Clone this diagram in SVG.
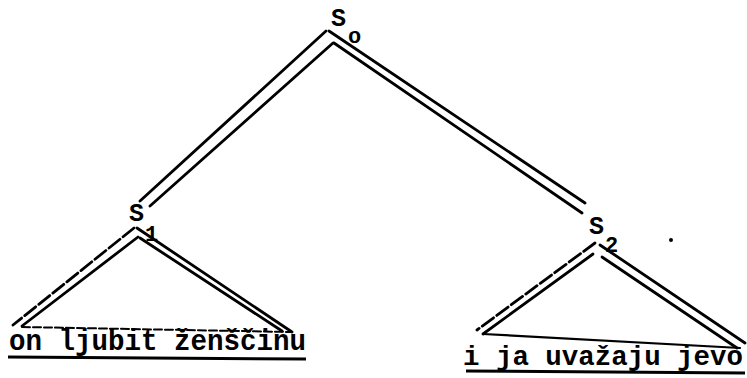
<svg xmlns="http://www.w3.org/2000/svg" width="747" height="378" viewBox="0 0 747 378">
<style>
.ln{stroke:#000;stroke-width:2.8;fill:none;stroke-linecap:round}
.dsh{stroke-dasharray:14 4}
.lab{font-family:"Liberation Mono","DejaVu Sans Mono",monospace;font-weight:bold;fill:#000}
.big{font-size:25px}
.sub{font-size:22px}
.txt{font-size:29px}
.txt2{font-size:27px}
.ul{stroke:#000;stroke-width:3;fill:none}
</style>
<rect width="747" height="378" fill="#fff"/>
<g id="connectors">
<line class="ln" x1="326" y1="31" x2="140" y2="201"/>
<line class="ln" x1="333" y1="43" x2="150" y2="206"/>
<line class="ln" x1="329" y1="31" x2="585" y2="203"/>
<line class="ln" x1="334" y1="43" x2="582" y2="213"/>
</g>
<g id="node-S0">
<text class="lab big" x="331" y="26">S</text>
<text class="lab sub" x="348" y="43">o</text>
</g>
<g id="node-S1">
<text class="lab big" x="129" y="221">S</text>
<text class="lab sub" x="145" y="241">1</text>
<line class="ln dsh" x1="134" y1="228" x2="13" y2="325"/>
<line class="ln" x1="138" y1="237" x2="22" y2="326"/>
<line class="ln" x1="137" y1="228" x2="292" y2="332"/>
<line class="ln" x1="140" y1="238" x2="282" y2="331"/>
<line class="ln dsh" x1="22" y1="327" x2="292" y2="332" style="stroke-width:2;stroke-dasharray:8 3"/>
</g>
<g id="node-S2">
<text class="lab big" x="589" y="234">S</text>
<text class="lab sub" x="605" y="252">2</text>
<line class="ln dsh" x1="595" y1="243" x2="477" y2="330"/>
<line class="ln" x1="593" y1="254" x2="483" y2="334"/>
<line class="ln" x1="600" y1="245" x2="745" y2="343"/>
<line class="ln" x1="602" y1="257" x2="737" y2="348"/>
<line class="ln" x1="483" y1="334" x2="740" y2="348" style="stroke-width:2.2"/>
</g>
<g id="sentence-1">
<text class="lab txt" x="9" y="350" textLength="297" lengthAdjust="spacingAndGlyphs">on ljubit ženščinu</text>
<line class="ul" x1="8" y1="357" x2="306" y2="359"/>
</g>
<g id="sentence-2">
<text class="lab txt2" x="463" y="365" textLength="280" lengthAdjust="spacingAndGlyphs">i ja uvažaju jevo</text>
<line class="ul" x1="466" y1="371" x2="745" y2="373"/>
</g>
<circle cx="671" cy="240" r="2" fill="#000"/>
</svg>
